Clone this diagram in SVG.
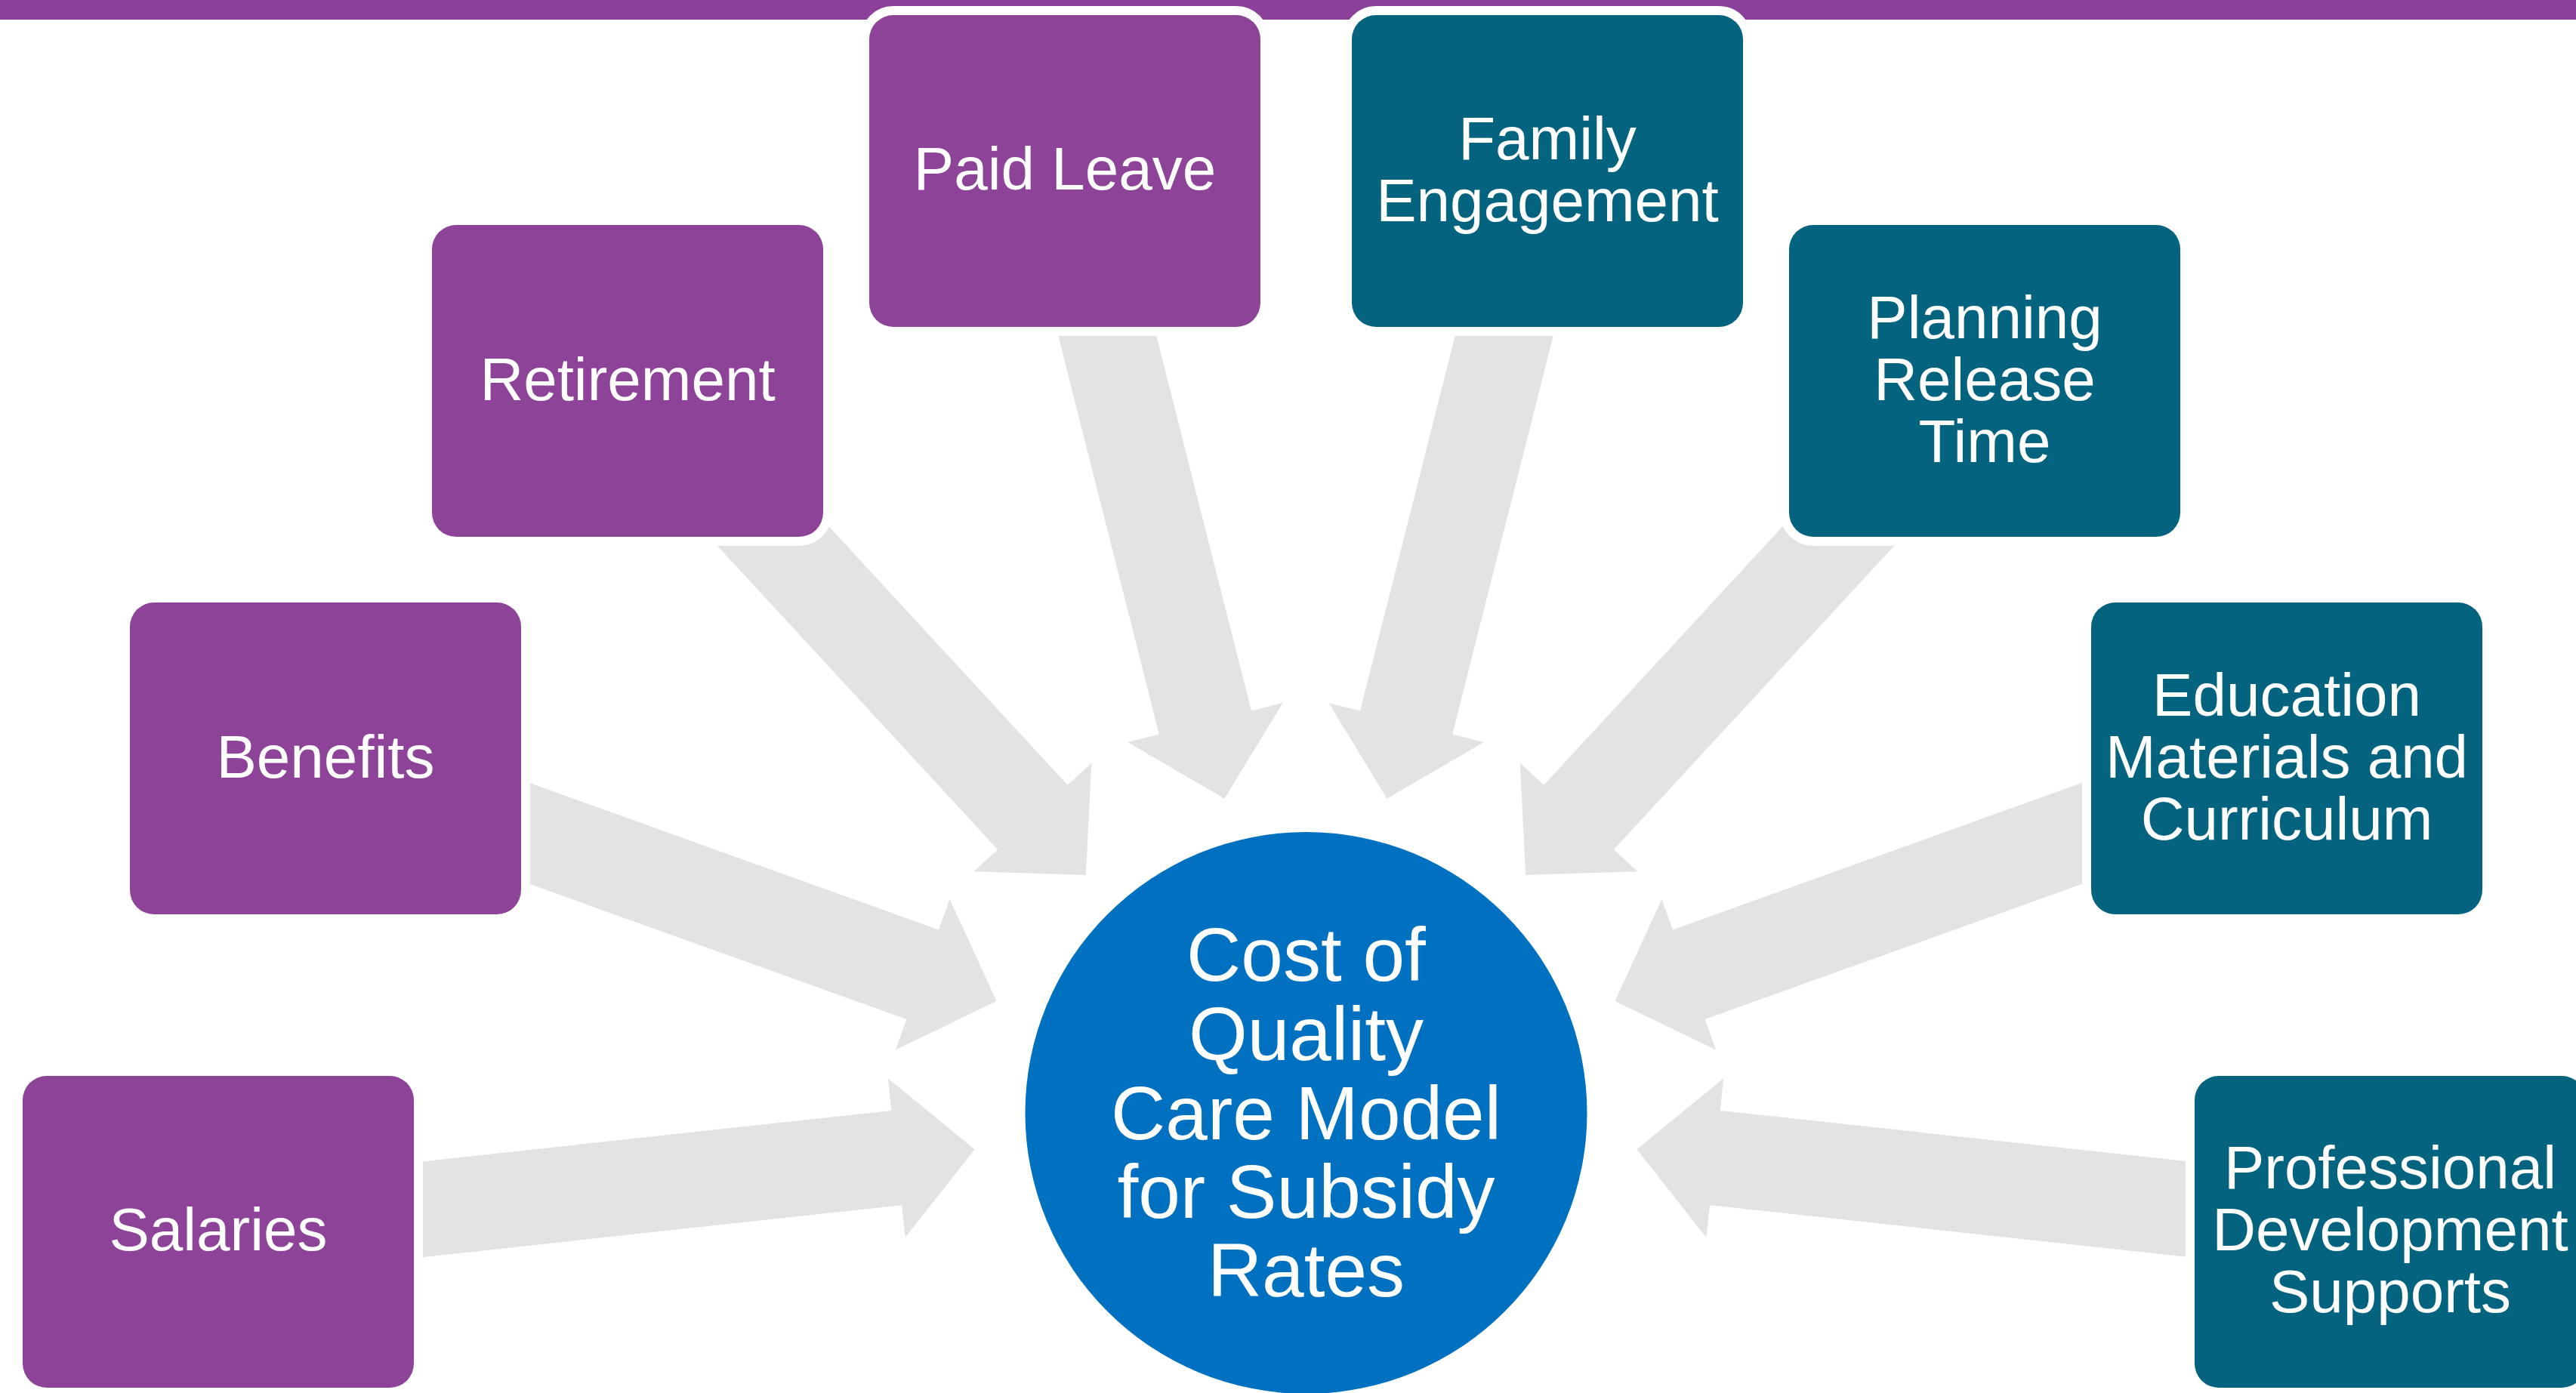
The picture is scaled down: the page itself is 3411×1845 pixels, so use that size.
<svg xmlns="http://www.w3.org/2000/svg" xmlns:xlink="http://www.w3.org/1999/xlink" width="3411" height="1845" viewBox="0 0 3411 1845">
  <defs>
    <style>
      .box { stroke: #FFFFFF; stroke-width: 24; paint-order: stroke fill; }
      .purple { fill: #8D4398; }
      .teal { fill: #04637F; }
      .lbl { font-family: "Liberation Sans", Arial, Helvetica, sans-serif; font-size: 80px; fill: #FFFFFF; text-anchor: middle; }
      .hub { font-family: "Liberation Sans", Arial, Helvetica, sans-serif; font-size: 100px; fill: #FFFFFF; text-anchor: middle; }
      .arrow { fill: #E3E3E3; }
    </style>
    <path id="arr" d="M-800,-63 H-104 V-106 L0,0 L-104,106 V63 H-800 Z"/>
  </defs>

  <rect x="0" y="0" width="3411" height="1845" fill="#FFFFFF"/>
  <rect id="topbar" x="0" y="0" width="3411" height="26" fill="#8B409A"/>

  <g id="connectors" class="arrow">
    <use xlink:href="#arr" href="#arr" transform="translate(1290.6,1522.3) rotate(-6.2)"/>
    <use xlink:href="#arr" href="#arr" transform="translate(1319.6,1325.9) rotate(19.75)"/>
    <use xlink:href="#arr" href="#arr" transform="translate(1437.9,1158.9) rotate(47.3)"/>
    <use xlink:href="#arr" href="#arr" transform="translate(1621.4,1057.8) rotate(75.8)"/>
    <use xlink:href="#arr" href="#arr" transform="translate(1836.6,1057.8) rotate(104.2)"/>
    <use xlink:href="#arr" href="#arr" transform="translate(2020.1,1158.9) rotate(132.7)"/>
    <use xlink:href="#arr" href="#arr" transform="translate(2138.4,1325.9) rotate(160.25)"/>
    <use xlink:href="#arr" href="#arr" transform="translate(2167.4,1522.3) rotate(186.2)"/>
  </g>

  <g id="node-salaries">
    <rect class="box purple" x="30" y="1425" width="518" height="413" rx="32"/>
    <text class="lbl" x="289" y="1656">Salaries</text>
  </g>
  <g id="node-benefits">
    <rect class="box purple" x="172" y="798" width="518" height="413" rx="32"/>
    <text class="lbl" x="431" y="1030">Benefits</text>
  </g>
  <g id="node-retirement">
    <rect class="box purple" x="572" y="298" width="518" height="413" rx="32"/>
    <text class="lbl" x="831" y="530">Retirement</text>
  </g>
  <g id="node-paid-leave">
    <rect class="box purple" x="1151" y="20" width="518" height="413" rx="32"/>
    <text class="lbl" x="1410" y="251">Paid Leave</text>
  </g>
  <g id="node-family-engagement">
    <rect class="box teal" x="1790" y="20" width="518" height="413" rx="32"/>
    <text class="lbl" x="2049" y="211">Family</text>
    <text class="lbl" x="2049" y="293">Engagement</text>
  </g>
  <g id="node-planning">
    <rect class="box teal" x="2369" y="298" width="518" height="413" rx="32"/>
    <text class="lbl" x="2628" y="448">Planning</text>
    <text class="lbl" x="2628" y="530">Release</text>
    <text class="lbl" x="2628" y="612">Time</text>
  </g>
  <g id="node-education">
    <rect class="box teal" x="2769" y="798" width="518" height="413" rx="32"/>
    <text class="lbl" x="3028" y="948">Education</text>
    <text class="lbl" x="3028" y="1030">Materials and</text>
    <text class="lbl" x="3028" y="1112">Curriculum</text>
  </g>
  <g id="node-professional">
    <rect class="box teal" x="2906" y="1425" width="518" height="413" rx="32"/>
    <text class="lbl" x="3165" y="1574">Professional</text>
    <text class="lbl" x="3165" y="1656">Development</text>
    <text class="lbl" x="3165" y="1738">Supports</text>
  </g>

  <g id="node-hub">
    <circle cx="1729.5" cy="1474" r="372" fill="#0070C0"/>
    <text class="hub" x="1729.5" y="1299">Cost of</text>
    <text class="hub" x="1729.5" y="1404">Quality</text>
    <text class="hub" x="1729.5" y="1509">Care Model</text>
    <text class="hub" x="1729.5" y="1613">for Subsidy</text>
    <text class="hub" x="1729.5" y="1717">Rates</text>
  </g>
</svg>
